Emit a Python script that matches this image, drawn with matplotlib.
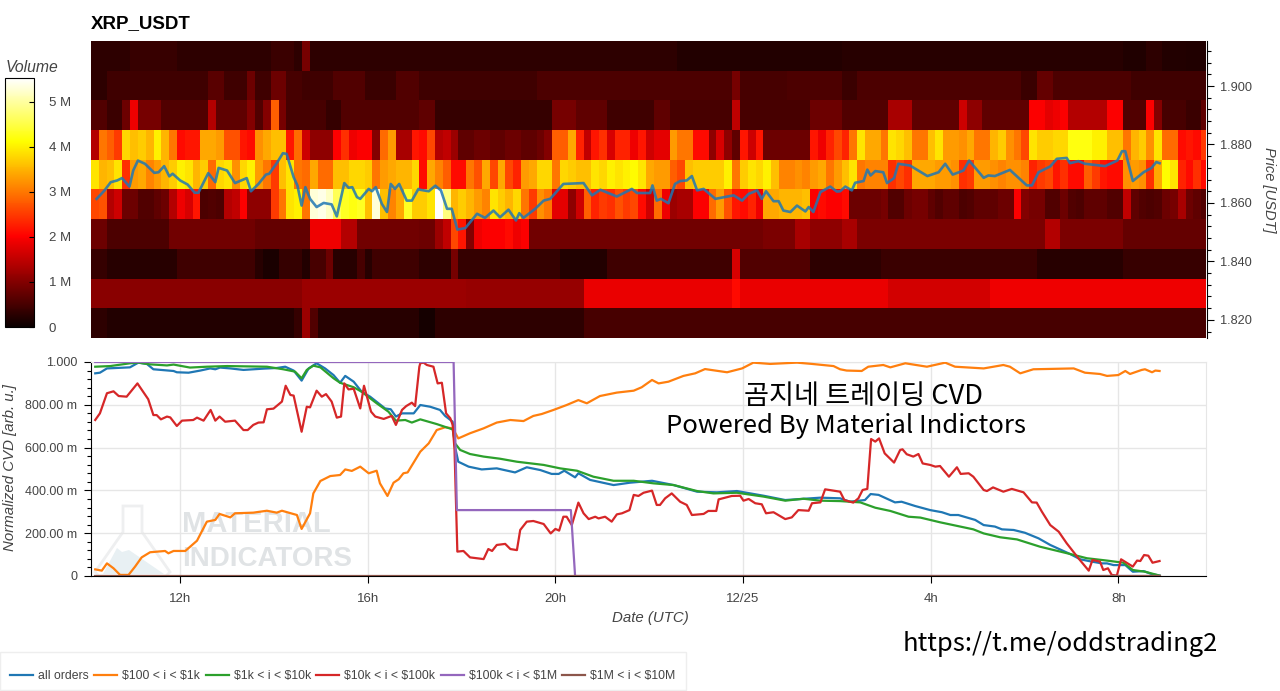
#!/usr/bin/env python
# -*- coding: utf-8 -*-
import numpy as np
import matplotlib
matplotlib.use('Agg')
import matplotlib.pyplot as plt
from matplotlib.patches import Polygon, Rectangle
from matplotlib.ticker import FixedLocator, MultipleLocator

plt.rcParams['font.family'] = ['Liberation Sans', 'DejaVu Sans']

W, H = 1280, 691

# volume per price bin (millions), top row first, one value per 10 minutes
row_1910 = ([.3]*5 + [.38]*6 + [.3]*12 + [.4]*3 + [.3] + [.9] + [.3]*14
            + [.3]*33 + [.2]*21
            + [.25]*36 + [.18]*3 + [.3]*2 + [.2]*3 + [.18]*3)
row_1900 = ([.3]*2 + [.45]*13 + [.65]*2 + [.45]*3 + [.8] + [.45]*2 + [.8]*2 + [.5]*2
            + [.45]*4 + [.6]*4 + [.4]*4 + [.6]*3
            + [.45]*15 + [.55]*25 + [.9] + [.5]*6 + [.55]*7
            + [.4]*2 + [.55]*21 + [.4]*2 + [.75]*2 + [.55]*10 + [.45]*10)
row_1890 = ([.6]*2 + [.4]*2 + [.8] + [1.9] + [.9]*3 + [.6]*6 + [1.4] + [.7]*4 + [1.0] + [.6] + [1.0]
            + [2.8] + [.9] + [.5]*5 + [.35]*2 + [.6]*10
            + [.7]*2 + [.35]*15 + [.9]*3 + [.7]*4 + [.45]*6 + [.7]*2 + [.5]*8 + [1.5] + [.5]*9 + [.8]*4
            + [.6]*6 + [1.3]*3 + [.7]*6 + [1.6] + [1.1]*2 + [.7]*6 + [2.0]*2 + [1.8] + [1.9] + [2.0]
            + [1.4]*5 + [2.0]*2 + [.6]*3 + [2.0] + [1.0] + [.5]*3 + [.4]*2 + [.7])
row_1880 = [1.4, 3.0, 2.8, 2.5, 3.8, 3.6, 3.7, 3.5, 4.0, 3.5, 3.0, 2.1, 2.2, 2.2, 3.4, 3.4, 3.3, 2.7, 2.7, 2.2, 2.1,
            3.2, 3.4, 3.6, 3.6, 2.2, 2.9, 1.6, 1.1, 1.1, 1.1, 2.0, 2.4, 1.9, 2.0, 2.0, 1.0, 2.9, 3.3, 1.3, 1.3, 2.2,
            2.1, 2.6, 1.4, 1.5, 1.2, 0.7, 0.7, 0.8, 0.8, 0.7, 0.7, 0.8, 0.8, 0.7, 0.7, 0.8, 1.0, 2.8, 2.8, 3.4, 2.3,
            1.5, 2.2, 2.4, 1.7, 2.3, 2.3, 1.9, 2.2, 1.6, 1.8, 1.8, 3.3, 3.0, 3.0, 2.1, 2.1, 1.1, 1.7, 1.1, 0.7, 2.2,
            1.6, 2.2, 0.8, 0.8, 0.8, 0.8, 0.8, 0.8, 2.2, 1.9, 2.3, 2.6,
            2.3, 3.0, 3.9, 3.4, 3.4, 3.0, 3.9, 3.8, 3.6, 3.0, 3.0, 3.6, 3.9, 3.3, 3.3, 3.2, 3.4, 3.0, 3.0, 3.5, 3.7,
            3.2, 3.0, 2.6, 3.9, 3.7, 3.7, 3.8, 3.8, 4.2, 4.2, 4.2, 4.0, 4.0, 3.6, 3.6, 3.0, 3.5, 3.7, 3.2, 3.9, 2.9,
            2.9, 2.1, 2.2, 2.1, 2.5]
row_1870 = [3.9, 3.5, 3.6, 3.9, 2.4, 3.3, 3.4, 3.1, 3.3, 3.5, 3.7, 4.0, 3.9, 3.5, 3.7, 2.9, 3.8, 3.9, 3.2, 3.8, 4.0,
            3.3, 3.0, 2.5, 3.6, 3.9, 3.0, 2.9, 3.4, 2.9, 2.9, 3.6, 3.6, 3.8, 3.8, 3.7, 3.0, 3.3, 3.4, 3.5, 3.5, 3.8,
            2.1, 3.4, 3.1, 2.8, 2.1, 2.1, 3.0, 2.7, 3.4, 2.6, 3.4, 2.6, 2.3, 3.3, 3.4, 3.8, 3.8, 3.0, 3.8, 3.7, 3.6,
            3.6, 3.9, 3.8, 4.0, 3.9, 4.0, 4.1, 3.9, 3.4, 3.3, 3.3, 2.8, 2.6, 3.6, 3.7, 3.7, 3.7, 3.7, 4.0, 3.0, 3.7,
            3.9, 3.8, 4.0, 3.6, 3.1, 3.1, 3.2, 3.1, 3.3, 3.4, 3.0, 3.3,
            3.6, 3.9, 3.0, 3.1, 3.1, 3.1, 2.4, 2.6, 2.4, 3.4, 3.4, 3.4, 3.3, 3.3, 3.2, 2.4, 2.5, 3.3, 3.3, 3.2, 3.1,
            3.2, 3.2, 3.1, 2.3, 2.5, 2.6, 2.2, 2.4, 2.1, 2.1, 2.8, 2.5, 2.2, 2.1, 2.1, 3.2, 3.3, 3.2, 2.4, 3.4, 4.1,
            3.9, 2.3, 2.1, 2.4, 2.1]
row_1860 = [2.6, 2.7, 1.4, 1.6, 0.8, 0.8, 0.6, 0.6, 0.7, 0.8, 1.4, 1.9, 1.7, 2.2, 0.55, 0.6, 0.55, 1.4, 1.5, 2.0, 1.1,
            1.1, 1.1, 2.5, 3.0, 3.9, 4.0, 3.0, 5.3, 5.4, 5.2, 4.6, 4.3, 4.2, 4.3, 3.6, 5.3, 3.6, 3.1, 3.4, 4.3, 3.7,
            3.7, 3.9, 5.5, 4.8, 3.5, 3.7, 3.5, 3.3, 3.1, 3.9, 3.7, 3.5, 3.8, 3.0, 2.5, 3.2, 3.0, 1.8, 1.8, 1.1, 1.6,
            2.8, 2.3, 2.5, 2.4, 2.7, 2.5, 2.6, 2.1, 1.6, 2.9, 1.9, 1.2, 1.3, 1.3, 2.0, 2.0, 2.9, 3.3, 2.7, 2.2, 2.1,
            2.3, 1.9, 3.4, 3.4, 3.5, 3.5, 3.5, 3.6, 2.0, 2.1, 2.0, 2.0,
            2.1, 0.8, 0.8, 0.8, 0.8, 0.9, 0.6, 0.6, 0.8, 0.9, 0.9, 0.7, 0.6, 0.7, 0.7, 0.55, 0.6, 0.7, 0.7, 0.7, 0.8,
            0.8, 2.0, 1.0, 0.9, 0.9, 0.6, 0.6, 0.8, 0.6, 0.55, 0.7, 0.7, 0.7, 0.6, 0.6, 1.5, 0.7, 0.6, 0.55, 0.6, 0.8,
            0.9, 1.3, 0.8, 0.7, 0.6]
row_1850 = ([.8]*2 + [.55]*8 + [.85]*5 + [.85]*6 + [.75]*7 + [1.9]*4 + [1.4]*2 + [.85]*8
            + [.8]*2 + [1.2] + [1.5] + [2.6] + [2.2] + [1.0] + [1.9, 2.0, 2.0, 2.0, 2.1, 1.9, 2.0]
            + [.85]*30 + [.95]*4 + [1.3]*2 + [1.1]*4
            + [1.3]*2 + [.95]*24 + [1.4]*2 + [.95]*8 + [.75]*11)
row_1840 = ([.35]*2 + [.25]*9 + [.45]*10 + [.25] + [.15]*2 + [.35]*3 + [.2] + [.5]*2 + [.8] + [.25]*3 + [.5] + [.25] + [.45]*6
            + [.3]*4 + [.9] + [.35]*13 + [.2]*6 + [.45]*16 + [1.7] + [.6]*9 + [.3]*4
            + [.3]*5 + [.4]*20 + [.25]*11 + [.38]*11)
row_1830 = ([1.05]*27 + [1.2]*15
            + [1.2]*6 + [1.15]*15 + [1.85]*19 + [2.1] + [1.85]*13
            + [1.85]*6 + [1.65]*13 + [1.9]*28)
row_1820 = ([.3]*2 + [.2]*24 + [.35] + [1.2] + [.6] + [.25]*13
            + [.1]*2 + [.3]*19 + [.5]*33
            + [.5]*47)

# price line: hour since 12/24 00:00, USDT
price_t = [10.22, 10.39, 10.52, 10.66, 10.76, 10.92, 11.00, 11.10, 11.25, 11.45, 11.54, 11.66, 11.77, 11.84, 12.00, 12.16,
           12.31, 12.39, 12.60, 12.75, 12.82, 13.00, 13.17, 13.42, 13.51, 13.67, 13.83, 13.90, 14.06, 14.19, 14.27, 14.42,
           14.50, 14.59, 14.67, 14.77, 14.91, 15.06, 15.23, 15.34, 15.50, 15.59, 15.67, 15.77, 15.84, 16.02, 16.09, 16.17,
           16.30, 16.41, 16.49, 16.58, 16.67, 16.83, 16.94, 17.08,
           17.12, 17.30, 17.44, 17.56, 17.69, 17.79, 17.91, 18.08, 18.33, 18.50, 18.68, 18.82, 19.00, 19.16, 19.23, 19.32,
           19.57, 19.75, 19.89, 20.17, 20.60, 20.78, 20.96, 21.31, 21.63, 21.74, 22.02, 22.07, 22.16, 22.25, 22.41, 22.55,
           22.66, 22.80, 22.91, 23.02, 23.16, 23.41, 23.80, 23.98, 24.12, 24.30, 24.40, 24.49, 24.65, 24.76, 24.86, 25.01,
           25.15, 25.33, 25.40, 25.50, 25.65, 25.86, 26.00,
           26.07, 26.18, 26.32, 26.39, 26.57, 26.65, 26.72, 26.82, 26.99, 27.07, 27.22, 27.31, 27.56, 27.93, 28.17, 28.31,
           28.47, 28.70, 28.82, 29.13, 29.23, 29.37, 29.69, 30.05, 30.16, 30.30, 30.55, 30.69, 30.90, 30.97, 31.15, 31.29,
           31.72, 31.98, 32.08, 32.15, 32.31, 32.54, 32.71, 32.81, 32.88]
price_v = [1.8614, 1.8643, 1.8671, 1.8677, 1.8685, 1.8656, 1.8711, 1.8745, 1.8734, 1.8703, 1.8705, 1.8726, 1.8691, 1.8700,
           1.8677, 1.8663, 1.8635, 1.8635, 1.8702, 1.8671, 1.8720, 1.8711, 1.8668, 1.8685, 1.8640, 1.8665, 1.8697, 1.8700,
           1.8736, 1.8770, 1.8768, 1.8688, 1.8660, 1.8591, 1.8654, 1.8614, 1.8586, 1.8600, 1.8595, 1.8554, 1.8668, 1.8652,
           1.8654, 1.8620, 1.8614, 1.8648, 1.8640, 1.8654, 1.8597, 1.8569, 1.8665, 1.8648, 1.8665, 1.8608, 1.8608, 1.8648,
           1.8645, 1.8640, 1.8659, 1.8643, 1.8580, 1.8580, 1.8509, 1.8514, 1.8563, 1.8549, 1.8574, 1.8551, 1.8577, 1.8540,
           1.8565, 1.8549, 1.8580, 1.8608, 1.8614, 1.8665, 1.8668, 1.8626, 1.8645, 1.8622, 1.8648, 1.8634, 1.8634, 1.8660,
           1.8608, 1.8614, 1.8599, 1.8665, 1.8675, 1.8677, 1.8692, 1.8643, 1.8648, 1.8614, 1.8626, 1.8608, 1.8631, 1.8643,
           1.8614, 1.8640, 1.8606, 1.8606, 1.8574, 1.8569, 1.8591, 1.8571, 1.8586, 1.8569, 1.8637, 1.8656, 1.8639,
           1.8640, 1.8656, 1.8643, 1.8669, 1.8675, 1.8714, 1.8694, 1.8709, 1.8705, 1.8668, 1.8685, 1.8734, 1.8728, 1.8692,
           1.8705, 1.8734, 1.8697, 1.8711, 1.8745, 1.8686, 1.8694, 1.8692, 1.8713, 1.8660, 1.8660, 1.8705, 1.8725, 1.8751,
           1.8754, 1.8736, 1.8743, 1.8734, 1.8726, 1.8745, 1.8777, 1.8777, 1.8675, 1.8705, 1.8720, 1.8740, 1.8736]

# normalized CVD lines
all_t = [10.19, 10.29, 10.44, 10.93, 11.11, 11.29, 11.43, 11.86, 11.93, 12.18, 12.43, 12.64, 12.75, 12.85, 13.07, 13.35,
         13.78, 14.06, 14.24, 14.42, 14.59, 14.74, 14.91, 15.09, 15.27, 15.41, 15.52, 15.70, 15.87, 16.05, 16.23, 16.37,
         16.49, 16.60, 16.73, 16.98, 17.12, 17.33, 17.54, 17.65, 17.81, 17.86, 17.93, 18.15, 18.43, 18.75, 19.14, 19.39,
         19.68, 19.92, 20.07, 20.19, 20.42, 20.49, 20.74, 21.24, 21.59, 22.06, 22.52, 23.02, 23.44, 23.87, 24.44, 24.90,
         25.65, 26.07, 26.28, 26.60, 26.72, 26.89, 27.24, 27.38, 27.67, 27.99, 28.24, 28.42, 28.59, 28.95, 29.13, 29.37,
         29.52, 29.77, 30.01, 30.30, 30.55, 30.97, 31.19, 31.44, 31.65, 31.76, 31.90, 32.15, 32.31, 32.54, 32.71, 32.88]
all_v = [.947, .950, .970, .975, .997, .991, .966, .958, .952, .950, .960, .970, .966, .974, .970, .963,
         .969, .972, .978, .960, .913, .970, .994, .970, .939, .903, .935, .908, .861, .838, .807, .783,
         .779, .745, .760, .760, .799, .791, .776, .748, .721, .604, .534, .511, .498, .503, .484, .508,
         .495, .477, .477, .492, .461, .480, .449, .425, .436, .445, .425, .394, .391, .397, .375, .355,
         .366, .363, .347, .355, .383, .379, .344, .347, .327, .308, .298, .285, .285, .262, .238, .231,
         .218, .215, .202, .176, .145, .103, .078, .067, .059, .059, .051, .051, .020, .023, .009, .002]

t100_t = [10.19, 10.33, 10.44, 10.58, 10.72, 10.90, 11.04, 11.18, 11.36, 11.68, 11.75, 11.86, 12.11, 12.36, 12.57, 12.75,
          12.84, 13.07, 13.17, 13.56, 13.85, 14.06, 14.17, 14.49, 14.59, 14.77, 14.84, 14.99, 15.20, 15.41, 15.52, 15.66,
          15.84, 16.02, 16.19, 16.26, 16.42, 16.55, 16.66, 16.76, 16.85, 17.12, 17.30, 17.47, 17.65, 17.81, 17.93, 18.18,
          18.47, 18.75, 19.04, 19.32, 19.53, 19.71, 19.96, 20.24, 20.49, 20.67, 20.95, 21.31, 21.67, 21.84, 22.06, 22.20,
          22.41, 22.73, 22.98, 23.19, 23.66, 23.98, 24.22, 24.58, 25.15, 25.47, 25.93, 26.07, 26.21, 26.53, 26.67, 26.99,
          27.14, 27.46, 27.92, 28.31, 28.52, 29.13, 29.55, 29.69, 29.91, 30.19, 31.05, 31.29, 31.61, 31.76, 32.00, 32.15,
          32.25, 32.50, 32.57, 32.72, 32.79, 32.88]
t100_v = [.031, .025, .059, .036, .005, .005, .044, .087, .111, .117, .106, .117, .117, .165, .254, .262,
          .290, .274, .293, .296, .305, .296, .305, .285, .220, .293, .386, .444, .467, .472, .498, .491,
          .511, .480, .492, .433, .374, .436, .452, .480, .484, .581, .620, .682, .695, .690, .643, .667,
          .690, .717, .729, .724, .748, .757, .776, .799, .822, .807, .841, .857, .866, .882, .916, .900,
          .908, .935, .947, .967, .952, .970, .997, .991, .997, .991, .981, .966, .960, .958, .978, .986,
          .975, .994, .978, .997, .978, .970, .986, .978, .947, .966, .970, .950, .944, .935, .939, .958,
          .944, .963, .966, .952, .960, .958]

t1k_t = [10.19, 10.51, 10.93, 11.11, 11.36, 11.72, 11.86, 12.21, 12.57, 13.00, 13.85, 14.20, 14.45, 14.59, 14.70, 14.84,
         14.99, 15.27, 15.41, 15.70, 15.87, 16.19, 16.44, 16.60, 16.80, 16.94, 17.12, 17.47, 17.81, 17.86, 17.97, 18.18,
         18.47, 18.82, 19.18, 19.75, 20.10, 20.46, 20.81, 21.24, 21.67, 22.09, 22.52, 23.02, 23.37, 23.87, 24.44, 24.90,
         25.29, 25.65, 26.07, 26.50, 26.82, 27.14, 27.53, 27.78, 28.20, 28.91, 29.13, 29.48, 29.84, 30.33, 30.97, 31.33,
         31.76, 32.11, 32.31, 32.57, 32.88]
t1k_v = [.978, .981, .994, .997, .989, .984, .988, .974, .978, .981, .978, .966, .955, .924, .963, .983,
         .975, .924, .903, .882, .861, .807, .768, .726, .729, .717, .732, .710, .685, .620, .589, .570,
         .558, .548, .534, .519, .503, .492, .464, .445, .445, .433, .425, .397, .386, .389, .371, .352,
         .361, .352, .350, .344, .319, .304, .277, .273, .251, .218, .199, .181, .171, .137, .103, .083,
         .072, .062, .028, .020, .002]

t10k_t = [10.19, 10.29, 10.44, 10.58, 10.69, 10.86, 11.09, 11.32, 11.43, 11.50, 11.59, 11.72, 11.79, 11.93, 12.04, 12.28,
          12.36, 12.50, 12.65, 12.75, 12.84, 12.96, 13.17, 13.35, 13.44, 13.56, 13.67, 13.78, 13.85, 13.99, 14.17, 14.25,
          14.35, 14.42, 14.59, 14.70, 14.77, 14.91, 15.02, 15.11, 15.23, 15.34, 15.43, 15.50, 15.59, 15.70, 15.84, 15.92,
          16.07, 16.16, 16.34, 16.51, 16.60, 16.73, 16.82, 16.94, 17.01, 17.10, 17.12, 17.19, 17.26, 17.40, 17.49, 17.58,
          17.67, 17.76, 17.81, 17.85, 17.91, 18.04, 18.18, 18.47, 18.57, 18.65, 18.75, 18.93, 19.04, 19.18, 19.25, 19.39,
          19.53, 19.75, 19.90, 20.00, 20.08, 20.17, 20.24, 20.35, 20.49, 20.60, 20.71, 20.85, 20.92, 21.06, 21.20, 21.31,
          21.42, 21.58, 21.67, 21.77, 21.88, 22.06, 22.16, 22.23, 22.34, 22.48, 22.66, 22.80, 22.91, 23.16, 23.26, 23.43,
          23.48, 23.76, 23.94, 24.01, 24.12, 24.26, 24.40, 24.49, 24.65, 24.90, 25.04, 25.18, 25.40, 25.47, 25.65, 25.75,
          26.07, 26.16, 26.35, 26.46, 26.55, 26.65, 26.73, 26.82, 26.90, 27.02, 27.22, 27.35, 27.40, 27.49, 27.63, 27.74,
          27.83, 27.99, 28.10, 28.20, 28.39, 28.56, 28.64, 28.81, 28.91, 29.13, 29.20, 29.33, 29.55, 29.73, 29.98, 30.16,
          30.26, 30.37, 30.55, 30.73, 30.90, 31.15, 31.37, 31.45, 31.61, 31.68, 31.78, 31.86, 31.97, 32.06, 32.31, 32.40,
          32.47, 32.55, 32.64, 32.73, 32.88]
t10k_v = [.729, .760, .854, .863, .841, .838, .900, .826, .752, .752, .732, .745, .741, .701, .726, .729,
          .740, .726, .776, .726, .745, .721, .726, .682, .682, .706, .717, .718, .779, .782, .815, .889,
          .846, .843, .674, .791, .788, .866, .838, .850, .815, .740, .745, .900, .872, .875, .783, .889,
          .768, .745, .734, .748, .706, .776, .794, .810, .794, .978, .994, .997, .986, .978, .900, .903,
          .760, .737, .706, .589, .114, .117, .087, .079, .126, .117, .145, .150, .126, .121, .215, .254,
          .257, .243, .199, .220, .212, .277, .277, .238, .343, .293, .266, .277, .269, .277, .254, .288,
          .293, .308, .379, .374, .389, .399, .332, .332, .363, .386, .347, .332, .285, .290, .304, .304,
          .358, .374, .375, .352, .360, .340, .335, .293, .298, .266, .274, .308, .305, .340, .344, .405,
          .394, .355, .343, .363, .402, .407, .640, .628, .643, .573, .530, .589, .592, .569, .558, .570,
          .526, .519, .511, .514, .464, .508, .477, .480, .464, .402, .397, .414, .394, .407, .391, .344,
          .343, .301, .238, .207, .153, .083, .025, .075, .067, .028, .036, .005, .002, .078, .044, .072,
          .070, .098, .095, .062, .070]

t100k_t = [10.19, 17.83, 17.90, 20.33, 20.42, 32.88]
t100k_v = [1.0, 1.0, .308, .308, 0, 0]

t1m_t = [10.19, 32.88]
t1m_v = [0, 0]

series_names = ['all orders', r'\$100 < i < \$1k', r'\$1k < i < \$10k', r'\$10k < i < \$100k',
                r'\$100k < i < \$1M', r'\$1M < i < \$10M']
series_colors = ['#1f77b4', '#ff7f0e', '#2ca02c', '#d62728', '#9467bd', '#8c564b']

hour_ticks = [12, 16, 20, 24, 28, 32]
hour_labels = ['12h', '16h', '20h', '12/25', '4h', '8h']
cvd_ticks = [0, .2, .4, .6, .8, 1.0]
cvd_labels = ['0', '200.00 m', '400.00 m', '600.00 m', '800.00 m', '1.000']
price_ticks = [1.82, 1.84, 1.86, 1.88, 1.90]
vol_ticks = [0, 1, 2, 3, 4, 5]
vol_labels = ['0', '1 M', '2 M', '3 M', '4 M', '5 M']

TXT = '#444444'


def box(x0, y0, x1, y1):
    # pixel box (top-left origin) to figure fractions
    return [x0 / W, 1 - y1 / H, (x1 - x0) / W, (y1 - y0) / H]


def fx(px):
    return px / W


def fy(py):
    return 1 - py / H


fig = plt.figure(figsize=(W / 100, H / 100), dpi=100)

# ======== heatmap ========
ax1 = fig.add_axes(box(91, 41, 1206, 338))
heat = np.array([row_1820, row_1830, row_1840, row_1850, row_1860,
                 row_1870, row_1880, row_1890, row_1900, row_1910])
t_edges = 10.1 + np.arange(heat.shape[1] + 1) / 6
p_edges = 1.8138 + np.arange(heat.shape[0] + 1) * 0.01016
mesh = ax1.pcolormesh(t_edges, p_edges, heat, cmap='hot', vmin=0, vmax=5.53, rasterized=True)
ax1.plot(price_t, price_v, color='#1f77b4', lw=1.9, alpha=0.85)
ax1.set_xlim(10.1, 33.87)
ax1.set_ylim(1.8138, 1.9154)
ax1.set_xticks([])
ax1.yaxis.tick_right()
ax1.yaxis.set_major_locator(FixedLocator(price_ticks))
ax1.yaxis.set_minor_locator(MultipleLocator(0.004))
ax1.set_yticklabels(['%.3f' % p for p in price_ticks])
ax1.tick_params(axis='y', which='major', length=5, width=0.8, labelsize=9.2, labelcolor=TXT, pad=4)
ax1.tick_params(axis='y', which='minor', length=3, width=0.8)
for s in ['top', 'left', 'bottom']:
    ax1.spines[s].set_visible(False)
ax1.spines['right'].set_linewidth(0.8)
ax1.spines['right'].set_position(('outward', 1))

fig.text(fx(91), fy(24), 'XRP_USDT', fontsize=13.5, fontweight='bold', va='center', ha='left', color='black')
fig.text(fx(1269), fy(190), 'Price [USDT]', fontsize=10.5, style='italic', rotation=270,
         va='center', ha='center', color=TXT)

# colorbar
cax = fig.add_axes(box(5, 78, 34, 327))
cbar = fig.colorbar(mesh, cax=cax)
cbar.set_ticks(vol_ticks)
cbar.set_ticklabels(vol_labels)
cax.tick_params(axis='y', which='major', direction='in', length=3.6, width=0.8, labelsize=9.5,
                labelcolor=TXT, pad=10.5)
cbar.outline.set_linewidth(0.8)
fig.text(fx(6), fy(68), 'Volume', fontsize=11.3, style='italic', va='center', ha='left', color=TXT)

# ======== CVD ========
ax2 = fig.add_axes(box(91, 362, 1206, 576))
ax2.set_zorder(2)
ax2.patch.set_alpha(0)

lines_t = [all_t, t100_t, t1k_t, t10k_t, t100k_t, t1m_t]
lines_v = [all_v, t100_v, t1k_v, t10k_v, t100k_v, t1m_v]
handles = []
for t, v, name, c in zip(lines_t, lines_v, series_names, series_colors):
    h, = ax2.plot(t, v, color=c, lw=1.6, label=name, solid_joinstyle='round', zorder=3)
    handles.append(h)

ax2.set_xlim(10.1, 33.87)
ax2.set_ylim(0, 1.0)
ax2.set_xticks(hour_ticks)
ax2.set_xticklabels(hour_labels)
ax2.yaxis.set_major_locator(FixedLocator(cvd_ticks))
ax2.yaxis.set_minor_locator(MultipleLocator(0.04))
ax2.set_yticklabels(cvd_labels)
ax2.grid(True, color='#e6e6e6', lw=1, zorder=0)
ax2.tick_params(axis='x', length=5, width=0.8, labelsize=9.5, labelcolor=TXT, pad=7)
ax2.tick_params(axis='y', which='major', length=5, width=0.8, labelsize=9, labelcolor=TXT, pad=5)
ax2.tick_params(axis='y', which='minor', length=3, width=0.8)
for s in ['top', 'right']:
    ax2.spines[s].set_color('#e6e6e6')
fig.text(fx(650), fy(618), 'Date (UTC)', fontsize=10.8, style='italic', va='center', ha='center', color=TXT)
fig.text(fx(10), fy(468), 'Normalized CVD [arb. u.]', fontsize=10.8, style='italic', rotation=90,
         va='center', ha='center', color=TXT)

# watermark
wm = '#e0e3e5'
flask = [(123, 506), (142, 506), (142, 532), (170, 572), (166, 576), (99, 576), (95, 572), (123, 532)]
fig.add_artist(Polygon([(fx(a), fy(b)) for a, b in flask], closed=True, fill=False, edgecolor='#eeeff0',
                       lw=2, transform=fig.transFigure, zorder=0))
mount = [(103, 574), (117, 548), (122, 552), (129, 550), (164, 574)]
fig.add_artist(Polygon([(fx(a), fy(b)) for a, b in mount], closed=True, facecolor='#e8f0f3', edgecolor='none',
                       transform=fig.transFigure, zorder=0))
fig.text(fx(182), fy(524), 'MATERIAL', fontsize=21, fontweight='bold', color=wm,
         va='center', ha='left', zorder=0)
fig.text(fx(182), fy(559), 'INDICATORS', fontsize=20, fontweight='bold', color=wm,
         va='center', ha='left', zorder=0)

# overlay captions
kr = ['Noto Sans CJK KR', 'DejaVu Sans']
fig.text(fx(863), fy(396), '곰지네 트레이딩 CVD', fontsize=19.6, family=kr, fontweight='medium', color='black',
         va='center', ha='center', zorder=5)
fig.text(fx(846), fy(426), 'Powered By Material Indictors', fontsize=18.5, family=kr, fontweight='medium', color='black',
         va='center', ha='center', zorder=5)
fig.text(fx(1060), fy(644), 'https://t.me/oddstrading2', fontsize=18.4, family=kr, fontweight='medium', color='black',
         va='center', ha='center', zorder=5)

# legend
fig.add_artist(Rectangle((0, fy(690)), fx(686), fy(652) - fy(690), facecolor='white', edgecolor='#eeeeee',
                         lw=1, transform=fig.transFigure, zorder=0))
fig.legend(handles=handles, loc='center left', bbox_to_anchor=(fx(10), fy(676)), ncol=6, frameon=False,
           fontsize=8.8, handlelength=1.88, handletextpad=0.41, columnspacing=0.45, borderpad=0,
           borderaxespad=0, labelcolor=TXT)

fig.savefig('out.png', dpi=100)
